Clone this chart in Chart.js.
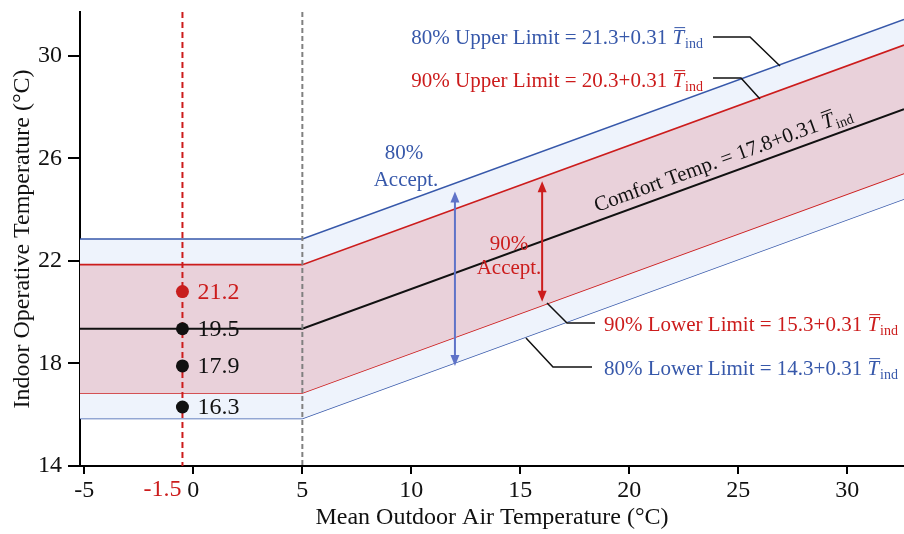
<!DOCTYPE html>
<html>
<head>
<meta charset="utf-8">
<script src="https://cdn.jsdelivr.net/npm/chart.js@4.4.1/dist/chart.umd.min.js"></script>
<style>
  html, body { margin: 0; padding: 0; background: #fff; }
  #wrap { width: 904px; height: 534px; }
</style>
</head>
<body>
<div id="wrap"><canvas id="comfortChart" width="904" height="534"></canvas></div>
<script>
// values
const bandX = [-5.2, 5, 32.6];
const upper80 = [22.85, 22.85, 31.41];
const upper90 = [21.85, 21.85, 30.41];
const comfort = [19.35, 19.35, 27.91];
const lower90 = [16.85, 16.85, 25.41];
const lower80 = [15.85, 15.85, 24.41];

const pointX = -0.5;
const pointY = [20.8, 19.35, 17.9, 16.3];
const pointLabels = ['21.2', '19.5', '17.9', '16.3'];

const xTicks = [-5, 0, 5, 10, 15, 20, 25, 30];
const yTicks = [14, 18, 22, 26, 30];

const arrowX = [12, 16];
const arrowLow = [17.9, 20.4];
const arrowHigh = [24.7, 25.1];

const RED = 'rgb(204, 28, 28)';
const BLUE = 'rgb(55, 88, 170)';
const SERIF = '"Liberation Serif", "Times New Roman", serif';

function xy(ys) {
  return bandX.map((x, i) => ({ x: x, y: ys[i] }));
}

function drawEq(ctx, pre, x, y, color, align, size) {
  ctx.save();
  ctx.fillStyle = color;
  ctx.strokeStyle = color;
  ctx.textBaseline = 'alphabetic';
  ctx.textAlign = 'left';
  ctx.font = size + 'px ' + SERIF;
  const w1 = ctx.measureText(pre).width;
  ctx.font = 'italic ' + size + 'px ' + SERIF;
  const w2 = ctx.measureText('T').width;
  const sub = Math.round(size * 0.65);
  ctx.font = sub + 'px ' + SERIF;
  const w3 = ctx.measureText('ind').width;
  const total = w1 + w2 + 1 + w3;
  const x0 = align === 'right' ? x - total : x;
  ctx.font = size + 'px ' + SERIF;
  ctx.fillText(pre, x0, y);
  ctx.font = 'italic ' + size + 'px ' + SERIF;
  ctx.fillText('T', x0 + w1, y);
  ctx.lineWidth = 1;
  ctx.beginPath();
  ctx.moveTo(x0 + w1 + 2, y - size * 0.78);
  ctx.lineTo(x0 + w1 + w2 + 1, y - size * 0.78);
  ctx.stroke();
  ctx.font = sub + 'px ' + SERIF;
  ctx.fillText('ind', x0 + w1 + w2 + 1, y + size * 0.2);
  ctx.restore();
}

function arrow(ctx, x, y1, y2, color) {
  // double headed vertical arrow, y1 bottom, y2 top (pixels)
  const h = 11, hw = 4.5;
  ctx.save();
  ctx.strokeStyle = color;
  ctx.fillStyle = color;
  ctx.lineWidth = 2;
  ctx.beginPath();
  ctx.moveTo(x, y1 - h + 1);
  ctx.lineTo(x, y2 + h - 1);
  ctx.stroke();
  ctx.beginPath();
  ctx.moveTo(x, y2); ctx.lineTo(x - hw, y2 + h); ctx.lineTo(x + hw, y2 + h); ctx.closePath();
  ctx.fill();
  ctx.beginPath();
  ctx.moveTo(x, y1); ctx.lineTo(x - hw, y1 - h); ctx.lineTo(x + hw, y1 - h); ctx.closePath();
  ctx.fill();
  ctx.restore();
}

function leader(ctx, pts) {
  ctx.save();
  ctx.strokeStyle = '#111';
  ctx.lineWidth = 1.5;
  ctx.beginPath();
  ctx.moveTo(pts[0][0], pts[0][1]);
  for (let i = 1; i < pts.length; i++) ctx.lineTo(pts[i][0], pts[i][1]);
  ctx.stroke();
  ctx.restore();
}

const guidePlugin = {
  id: 'guides',
  beforeDatasetDraw(chart, args) {
    if (args.index !== 0) return;
    const ctx = chart.ctx;
    const { top, bottom } = chart.chartArea;
    const xs = chart.scales.x;
    ctx.save();
    ctx.lineWidth = 2;
    ctx.setLineDash([5, 3]);
    ctx.strokeStyle = 'rgb(128, 128, 128)';
    ctx.beginPath();
    ctx.moveTo(xs.getPixelForValue(bandX[1]), top);
    ctx.lineTo(xs.getPixelForValue(bandX[1]), bottom);
    ctx.stroke();
    ctx.setLineDash([6, 4]);
    ctx.strokeStyle = RED;
    ctx.beginPath();
    ctx.moveTo(xs.getPixelForValue(pointX), top);
    ctx.lineTo(xs.getPixelForValue(pointX), bottom);
    ctx.stroke();
    ctx.restore();
  },
  afterDatasetsDraw(chart) {
    const ctx = chart.ctx;
    const xs = chart.scales.x, ys = chart.scales.y;

    // arrows
    arrow(ctx, xs.getPixelForValue(arrowX[0]), ys.getPixelForValue(arrowLow[0]), ys.getPixelForValue(arrowHigh[0]), 'rgb(95, 115, 200)');
    arrow(ctx, xs.getPixelForValue(arrowX[1]), ys.getPixelForValue(arrowLow[1]), ys.getPixelForValue(arrowHigh[1]), RED);

    // point labels
    const meta = chart.getDatasetMeta(0);
    ctx.save();
    ctx.font = '24px ' + SERIF;
    ctx.textAlign = 'left';
    ctx.textBaseline = 'middle';
    meta.data.forEach((pt, i) => {
      ctx.fillStyle = i === 0 ? RED : '#111';
      ctx.fillText(pointLabels[i], pt.x + 15, pt.y + 1);
    });
    // red -1.5 label under the axis
    ctx.fillStyle = RED;
    ctx.textAlign = 'right';
    ctx.fillText('-1.5', xs.getPixelForValue(pointX) - 1, 490);

    // acceptance labels
    ctx.font = '21px ' + SERIF;
    ctx.textAlign = 'center';
    ctx.textBaseline = 'alphabetic';
    ctx.fillStyle = BLUE;
    ctx.fillText('80%', 404, 159);
    ctx.fillText('Accept.', 406, 186);
    ctx.fillStyle = RED;
    ctx.fillText('90%', 509, 250);
    ctx.fillText('Accept.', 509, 274);
    ctx.restore();

    // comfort label rotated along the line
    const slope = (ys.getPixelForValue(comfort[2]) - ys.getPixelForValue(comfort[1])) /
                  (xs.getPixelForValue(bandX[2]) - xs.getPixelForValue(bandX[1]));
    ctx.save();
    ctx.translate(597, 212);
    ctx.rotate(Math.atan(slope));
    drawEq(ctx, 'Comfort Temp. = 17.8+0.31 ', 0, 0, '#111', 'left', 21);
    ctx.restore();

    // limit labels with leader lines
    drawEq(ctx, '80% Upper Limit = 21.3+0.31 ', 703, 44, BLUE, 'right', 21);
    drawEq(ctx, '90% Upper Limit = 20.3+0.31 ', 703, 87, RED, 'right', 21);
    drawEq(ctx, '90% Lower Limit = 15.3+0.31 ', 604, 331, RED, 'left', 21);
    drawEq(ctx, '80% Lower Limit = 14.3+0.31 ', 604, 375, BLUE, 'left', 21);
    leader(ctx, [[713, 37], [750, 37], [780, 66]]);
    leader(ctx, [[713, 78], [741, 78], [760, 99]]);
    leader(ctx, [[595, 323], [567, 323], [547, 303]]);
    leader(ctx, [[592, 367], [553, 367], [526, 338]]);
  }
};

const ctx = document.getElementById('comfortChart').getContext('2d');

const chart = new Chart(ctx, {
  type: 'line',
  data: {
    datasets: [
      {
        label: 'points',
        data: pointY.map(v => ({ x: pointX, y: v })),
        showLine: false,
        pointRadius: 6.5,
        pointBackgroundColor: ['rgb(200, 30, 30)', '#111', '#111', '#111'],
        pointBorderWidth: 0
      },
      {
        label: 'Comfort',
        data: xy(comfort),
        borderColor: '#111',
        borderWidth: 2,
        pointRadius: 0,
        fill: false
      },
      {
        label: '90% Upper',
        data: xy(upper90),
        borderColor: RED,
        borderWidth: 1.6,
        pointRadius: 0,
        fill: { target: '+1' },
        backgroundColor: 'rgb(233, 209, 218)'
      },
      {
        label: '90% Lower',
        data: xy(lower90),
        borderColor: RED,
        borderWidth: 1.6,
        pointRadius: 0,
        fill: false
      },
      {
        label: '80% Upper',
        data: xy(upper80),
        borderColor: BLUE,
        borderWidth: 1.6,
        pointRadius: 0,
        fill: { target: '+1' },
        backgroundColor: 'rgb(238, 243, 252)'
      },
      {
        label: '80% Lower',
        data: xy(lower80),
        borderColor: BLUE,
        borderWidth: 1.6,
        pointRadius: 0,
        fill: false
      }
    ]
  },
  options: {
    responsive: false,
    animation: false,
    layout: { autoPadding: false, padding: { top: 12, right: 0, left: 0, bottom: 0 } },
    plugins: {
      legend: { display: false },
      tooltip: { enabled: false }
    },
    scales: {
      x: {
        type: 'linear',
        min: -5.2,
        max: 32.6,
        afterBuildTicks: s => { s.ticks = xTicks.map(v => ({ value: v })); },
        afterFit: s => { s.height = 68; s.paddingLeft = 0; s.paddingRight = 0; },
        border: { display: true, color: '#000', width: 2 },
        grid: { display: true, drawOnChartArea: false, drawTicks: true, tickLength: 8, color: '#000', lineWidth: 2 },
        ticks: { color: '#111', font: { family: SERIF, size: 24 }, padding: 2, autoSkip: false, maxRotation: 0 },
        title: {
          display: true,
          text: 'Mean Outdoor Air Temperature (°C)',
          color: '#111',
          font: { family: SERIF, size: 24 },
          padding: { top: 0, bottom: 2 }
        }
      },
      y: {
        type: 'linear',
        min: 14,
        max: 31.7,
        afterBuildTicks: s => { s.ticks = yTicks.map(v => ({ value: v })); },
        afterFit: s => { s.width = 80; s.paddingTop = 0; s.paddingBottom = 0; },
        border: { display: true, color: '#000', width: 2 },
        grid: { display: true, drawOnChartArea: false, drawTicks: true, tickLength: 12, color: '#000', lineWidth: 2 },
        ticks: { color: '#111', font: { family: SERIF, size: 24 }, padding: 6 },
        title: {
          display: true,
          text: 'Indoor Operative Temperature (°C)',
          color: '#111',
          font: { family: SERIF, size: 24 },
          padding: { top: 8, bottom: 0 }
        }
      }
    }
  },
  plugins: [guidePlugin]
});
</script>
</body>
</html>
